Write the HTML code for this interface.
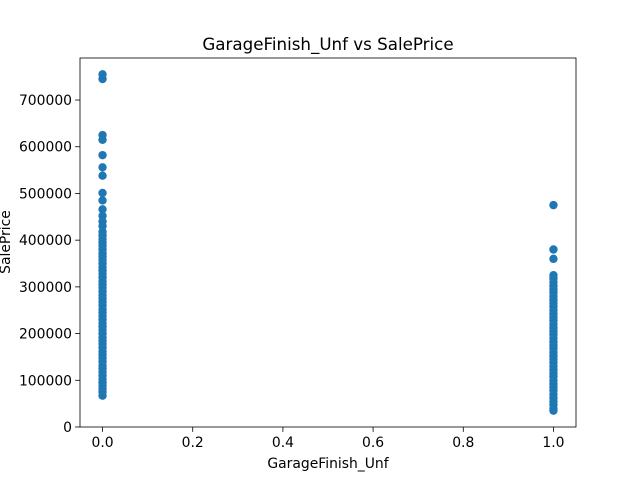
<!DOCTYPE html>
<html><head><meta charset="utf-8"><style>
body{margin:0;background:#fff;}
svg text{font-family:"DejaVu Sans","Liberation Sans",sans-serif;fill:#000;}
</style></head><body>
<svg id="chart" width="640" height="480" xmlns="http://www.w3.org/2000/svg">
<rect width="640" height="480" fill="#fff"/>
<text x="328" y="50" text-anchor="middle" font-size="16.7">GarageFinish_Unf vs SalePrice</text>
<g id="marks"></g>
<g id="axes"></g>
<text x="328" y="468" text-anchor="middle" font-size="13.9">GarageFinish_Unf</text>
<text transform="translate(10,242) rotate(-90)" text-anchor="middle" font-size="13.9">SalePrice</text>
</svg>
<script>
const xTicks=[0,0.2,0.4,0.6,0.8,1.0];
const xTickLabels=["0.0","0.2","0.4","0.6","0.8","1.0"];
const yTicks=[0,100000,200000,300000,400000,500000,600000,700000];
const yTickLabels=["0","100000","200000","300000","400000","500000","600000","700000"];
const priceUnf0=[755000,745000,625000,615000,582000,556000,538000,501000,485000,466000,452000,440000,430000,418000,410000,402000,395000,388000,380000,372000,365000,358000,350000,342000,335000,328000,320000,312000,305000,298000,290000,282000,275000,268000,260000,252000,245000,238000,230000,222000,215000,208000,200000,192000,185000,178000,170000,162000,155000,148000,140000,132000,125000,118000,110000,102000,95000,88000,82000,75000,67000];
const priceUnf1=[475000,380000,360000,325000,318000,310000,302000,295000,288000,280000,272000,265000,258000,250000,242000,235000,228000,220000,212000,205000,198000,190000,182000,175000,168000,160000,152000,145000,138000,130000,122000,115000,108000,100000,92000,85000,78000,70000,62000,55000,48000,40000,35000];
const L=80,R=576,T=58,B=427,xmin=-0.05,xmax=1.05,ymin=0,ymax=790000;
const sx=v=>L+(v-xmin)/(xmax-xmin)*(R-L);
const sy=v=>B-(v-ymin)/(ymax-ymin)*(B-T);
const NS="http://www.w3.org/2000/svg";
const marks=document.getElementById('marks');
function pt(x,y){const c=document.createElementNS(NS,'circle');
c.setAttribute('cx',sx(x));c.setAttribute('cy',sy(y));c.setAttribute('r',4.2);c.setAttribute('fill','#1f77b4');


marks.appendChild(c);}
priceUnf0.forEach(v=>pt(0,v));
priceUnf1.forEach(v=>pt(1,v));
const axes=document.getElementById('axes');
function el(tag,attrs,txt){const e=document.createElementNS(NS,tag);for(const k in attrs)e.setAttribute(k,attrs[k]);if(txt!==undefined)e.textContent=txt;axes.appendChild(e);return e;}
const frame=el('rect',{x:L,y:T,width:R-L,height:B-T,fill:'none',stroke:'#000','stroke-width':0.8});


xTicks.forEach((v,i)=>{const x=sx(v);
const t=el('line',{x1:x,x2:x,y1:B,y2:B+4.9,stroke:'#000','stroke-width':0.8});


const l=el('text',{x:x,y:B+20,'text-anchor':'middle','font-size':13.9},xTickLabels[i]);

});
yTicks.forEach((v,i)=>{const y=sy(v);
const t=el('line',{x1:L-4.9,x2:L,y1:y,y2:y,stroke:'#000','stroke-width':0.8});


const l=el('text',{x:L-8,y:y+5,'text-anchor':'end','font-size':13.9},yTickLabels[i]);

});
</script>
</body></html>
